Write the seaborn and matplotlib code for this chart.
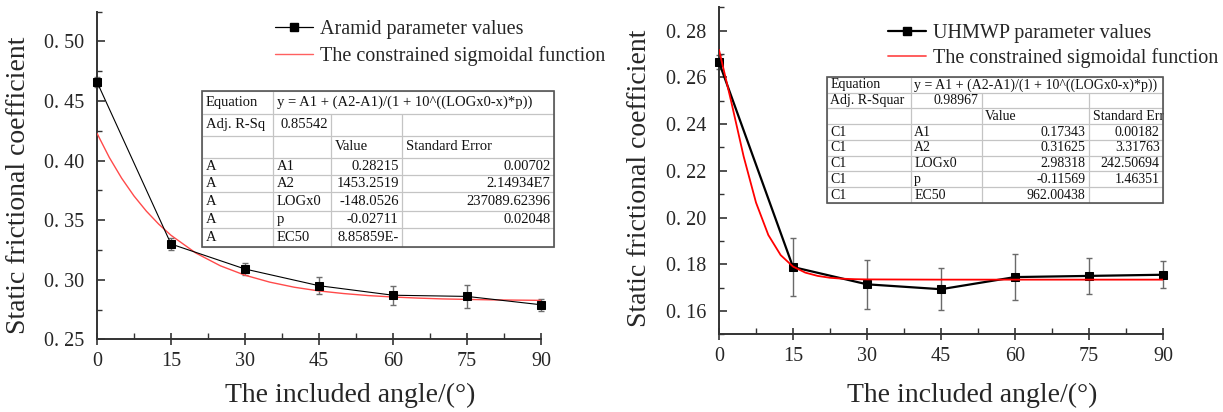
import numpy as np
import pandas as pd
import matplotlib
matplotlib.use("Agg")
import matplotlib.pyplot as plt
import seaborn as sns
from matplotlib.table import Table
from matplotlib.ticker import MultipleLocator, FuncFormatter
from matplotlib.lines import Line2D
from matplotlib.patches import Rectangle

# ---------------- data ----------------
angles = [0, 15, 30, 45, 60, 75, 90]
aramid_mu = [0.466, 0.330, 0.309, 0.295, 0.287, 0.286, 0.279]
aramid_err = [0.004, 0.005, 0.005, 0.007, 0.008, 0.010, 0.005]
uhmwp_mu = [0.2665, 0.1788, 0.1714, 0.1693, 0.1745, 0.1750, 0.1755]
uhmwp_err = [0.003, 0.0124, 0.0104, 0.009, 0.010, 0.0077, 0.0057]

# sigmoidal fit curves
aramid_fit_x = [0, 2.5, 5, 7.5, 10, 12.5, 15, 20, 25, 30, 35, 40, 45, 50, 55, 60, 65, 70, 75, 80, 85, 90]
aramid_fit_y = [0.4229, 0.4026, 0.3852, 0.3703, 0.3576, 0.3467, 0.3373, 0.3225, 0.3117, 0.3038,
                0.2980, 0.2937, 0.2906, 0.2884, 0.2867, 0.2855, 0.2846, 0.2839, 0.2835, 0.2831,
                0.2829, 0.2827]
uhmwp_fit_x = [0, 2.5, 5, 7.5, 10, 12.5, 15, 17.5, 20, 22.5, 25, 27.5, 30, 45, 60, 75, 90]
uhmwp_fit_y = [0.2718, 0.2494, 0.2261, 0.2064, 0.1925, 0.1839, 0.1790, 0.1764, 0.1750, 0.1742,
               0.1738, 0.1736, 0.1735, 0.1734, 0.1734, 0.1734, 0.1734]

left_legend = ["Aramid parameter values", "The constrained sigmoidal function"]
right_legend = ["UHMWP parameter values", "The constrained sigmoidal function"]
xlabel = "The included angle/(\u00b0)"
ylabel = "Static frictional coefficient"

left_table = [
    ["Equation", "y = A1 + (A2-A1)/(1 + 10^((LOGx0-x)*p))", "", ""],
    ["Adj. R-Sq", "0.85542", "", ""],
    ["", "", "Value", "Standard Error"],
    ["A", "A1", "0.28215", "0.00702"],
    ["A", "A2", "1453.2519", "2.14934E7"],
    ["A", "LOGx0", "-148.0526", "237089.62396"],
    ["A", "p", "-0.02711", "0.02048"],
    ["A", "EC50", "8.85859E-", ""],
]
right_table = [
    ["Equation", "y = A1 + (A2-A1)/(1 + 10^((LOGx0-x)*p))", "", ""],
    ["Adj. R-Squar", "0.98967", "", ""],
    ["", "", "Value", "Standard Err"],
    ["C1", "A1", "0.17343", "0.00182"],
    ["C1", "A2", "0.31625", "3.31763"],
    ["C1", "LOGx0", "2.98318", "242.50694"],
    ["C1", "p", "-0.11569", "1.46351"],
    ["C1", "EC50", "962.00438", ""],
]

# ---------------- style ----------------
sns.set_theme(style="ticks")
plt.rcParams['font.family'] = ['Liberation Serif', 'DejaVu Serif']
plt.rcParams['mathtext.default'] = 'regular'

W, H = 1223, 412
fig = plt.figure(figsize=(W / 100, H / 100), dpi=100)
ax1 = fig.add_axes([97 / W, 1 - 339.3 / H, 444 / W, 327.6 / H])
ax2 = fig.add_axes([719 / W, 1 - 334.3 / H, 444 / W, 327.0 / H])

fmt = FuncFormatter(lambda v, p: f"{v:.2f}".replace(".", ". "))


def style_axes(ax, ylim, ymaj, ymin):
    ax.set_xlim(0, 90)
    ax.set_ylim(*ylim)
    ax.xaxis.set_major_locator(MultipleLocator(15))
    ax.xaxis.set_minor_locator(MultipleLocator(7.5))
    ax.yaxis.set_major_locator(MultipleLocator(ymaj))
    ax.yaxis.set_minor_locator(MultipleLocator(ymin))
    ax.yaxis.set_major_formatter(fmt)
    for s in ["top", "right"]:
        ax.spines[s].set_visible(False)
    for s in ["left", "bottom"]:
        ax.spines[s].set_color("#333333")
        ax.spines[s].set_linewidth(1.4)
    ax.tick_params(axis="x", which="major", direction="inout", length=8, width=1.2,
                   color="#333333", labelsize=14.5, pad=5)
    ax.tick_params(axis="x", which="minor", direction="in", length=4, width=1.0, color="#333333")
    ax.tick_params(axis="y", which="major", direction="in", length=6, width=1.2,
                   color="#333333", labelsize=14.5, pad=9)
    ax.tick_params(axis="y", which="minor", direction="in", length=3.5, width=1.0, color="#333333")
    ax.set_facecolor("white")


def draw_table(ax, rows, colw, rowh, bbox, aligns, fs):
    # white background + dark outer frame
    ax.add_patch(Rectangle((bbox[0], bbox[1]), bbox[2], bbox[3], transform=ax.transAxes,
                           facecolor="white", edgecolor="none", clip_on=False, zorder=4.5))
    tb = Table(ax, bbox=bbox)
    tw_px = bbox[2] * ax.get_position().width * W
    for r, row in enumerate(rows):
        for c, txt in enumerate(row):
            cell = tb.add_cell(r, c, width=colw[c], height=rowh[r], text=txt,
                               loc=aligns[r][c], facecolor="none", edgecolor="#c4c4c4")
            cell.set_linewidth(0.8)
            cell.PAD = 3.5 / (colw[c] / sum(colw) * tw_px)
            cell.get_text().set_color("#111111")
    # merged equation cell
    tb[0, 1].visible_edges = "BTL"
    tb[0, 2].visible_edges = "BT"
    tb[0, 3].visible_edges = "BTR"
    tb.auto_set_font_size(False)
    tb.set_fontsize(fs)
    tb.set_zorder(5)
    ax.add_table(tb)
    ax.add_patch(Rectangle((bbox[0], bbox[1]), bbox[2], bbox[3], transform=ax.transAxes,
                           fill=False, edgecolor="#555555", lw=1.2, clip_on=False, zorder=6))


def al(rows, col_al, header_al):
    out = []
    for r, row in enumerate(rows):
        if r == 0:
            out.append(["left"] * 4)
        elif r == 1:
            out.append(["left", "right", "left", "left"])
        elif r == 2:
            out.append(header_al)
        else:
            out.append(col_al)
    return out


# ---------------- left panel ----------------
df1 = pd.DataFrame({"angle": angles, "mu": aramid_mu})
fit1 = pd.DataFrame({"angle": aramid_fit_x, "mu": aramid_fit_y})
ax1.errorbar(angles, aramid_mu, yerr=aramid_err, fmt="none", ecolor="#6e6e6e",
             elinewidth=1.0, capsize=2.5, capthick=1.0, zorder=2, clip_on=False)
sns.lineplot(data=fit1, x="angle", y="mu", ax=ax1, color="#ff4a4a", lw=1.0, zorder=3)
sns.lineplot(data=df1, x="angle", y="mu", ax=ax1, color="black", lw=0.8, marker="s",
             markersize=5.5, markeredgecolor="black", zorder=4, clip_on=False)
style_axes(ax1, (0.25, 0.525), 0.05, 0.025)

h1 = [Line2D([], [], color="black", lw=0.9, marker="s", markersize=5.5),
      Line2D([], [], color="#ff6060", lw=1.0)]
ax1.legend(h1, left_legend, loc="upper left", bbox_to_anchor=(0.401, 0.976),
           frameon=False, fontsize=14.5, handlelength=1.9, handletextpad=0.35,
           labelspacing=0.35, borderpad=0, borderaxespad=0)

draw_table(ax1, left_table, [0.202, 0.166, 0.201, 0.431],
           [67, 63, 65, 50, 50, 54, 50, 56],
           [0.2365, 0.2817, 1.029 - 0.2365, 0.758 - 0.2817],
           al(left_table, ["left", "left", "right", "right"], ["left", "left", "left", "left"]),
           10.5)

# ---------------- right panel ----------------
df2 = pd.DataFrame({"angle": angles, "mu": uhmwp_mu})
fit2 = pd.DataFrame({"angle": uhmwp_fit_x, "mu": uhmwp_fit_y})
ax2.errorbar(angles, uhmwp_mu, yerr=uhmwp_err, fmt="none", ecolor="#6a6a6a",
             elinewidth=1.0, capsize=2.5, capthick=1.0, zorder=2, clip_on=False)
sns.lineplot(data=df2, x="angle", y="mu", ax=ax2, color="black", lw=1.6, marker="s",
             markersize=5.5, markeredgecolor="black", zorder=3, clip_on=False)
sns.lineplot(data=fit2, x="angle", y="mu", ax=ax2, color="#ff0000", lw=1.3, zorder=4)
style_axes(ax2, (0.15, 0.29), 0.02, 0.01)

h2 = [Line2D([], [], color="black", lw=1.6, marker="s", markersize=5.5),
      Line2D([], [], color="#ff5050", lw=1.3)]
ax2.legend(h2, right_legend, loc="upper left", bbox_to_anchor=(0.381, 0.95),
           frameon=False, fontsize=14.5, handlelength=1.9, handletextpad=0.35,
           labelspacing=0.25, borderpad=0, borderaxespad=0)

draw_table(ax2, right_table, [0.25, 0.211, 0.32, 0.22],
           [1, 1, 1, 1, 1, 1, 1, 1],
           [0.2426, 0.4015, 1.0 - 0.2426, 0.787 - 0.4015],
           al(right_table, ["left", "left", "right", "right"], ["left", "left", "left", "left"]),
           10)

# ---------------- labels ----------------
for ax, xl, yl in [(ax1, (0.57, -0.17), (-0.176, 0.471)), (ax2, (0.57, -0.186), (-0.178, 0.478))]:
    ax.set_xlabel(xlabel, fontsize=20)
    ax.set_ylabel(ylabel, fontsize=20)
    ax.xaxis.label.set_va("center")
    ax.yaxis.label.set_va("center")
    ax.xaxis.set_label_coords(*xl)
    ax.yaxis.set_label_coords(*yl)

fig.savefig("out.png", dpi=100, facecolor="white")
